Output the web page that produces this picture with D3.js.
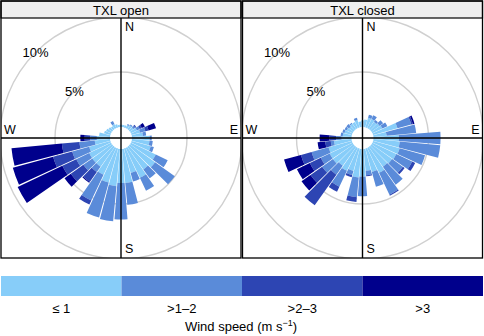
<!DOCTYPE html>
<html>
<head>
<meta charset="utf-8">
<script src="https://cdn.jsdelivr.net/npm/d3@7"></script>
<style>
body { margin: 0; background: #fff; }
svg text { font-family: "Liberation Sans", Arial, sans-serif; fill: #000; }
</style>
</head>
<body>
<script>
"use strict";
// wind direction bins (degrees, clockwise from north)
const directions = [10, 20, 30, 40, 50, 60, 70, 80, 90, 100, 110, 120, 130, 140, 150, 160, 170, 180,
	190, 200, 210, 220, 230, 240, 250, 260, 270, 280, 290, 300, 310, 320, 330, 340, 350, 360];
const speedClasses = ["\u2264 1", ">1\u20132", ">2\u20133", ">3"];
const panelTitles = ["TXL open", "TXL closed"];
const gridValues = [5, 10];
const gridLabels = ["5%", "10%"];
const cardinals = ["N", "E", "S", "W"];

// frequency (%) per direction and speed class, TXL open
const openLe1 = [0.2, 0.2, 0.3, 0.4, 0.4, 0.6, 0.8, 1.0, 1.6, 1.6, 1.8, 2.5, 2.8, 2.5, 3.0, 2.3, 3.1, 3.1,
	3.4, 3.2, 2.7, 2.2, 2.2, 2.2, 2.0, 1.4, 1.2, 1.0, 0.6, 0.5, 0.4, 0.3, 0.4, 0.3, 0.2, 0.2];
const open1to2 = [0, 0, 0.1, 0.1, 0.2, 0.3, 0.5, 0.3, 0.2, 0.3, 0.3, 1.2, 2.2, 1.0, 1.3, 0.8, 2.0, 3.3,
	3.2, 3.3, 2.6, 0.6, 1.0, 1.3, 1.6, 1.4, 0.6, 0, 0, 0, 0, 0, 0.3, 0, 0, 0];
const open2to3 = [0, 0, 0, 0, 0.1, 0.2, 0.3, 0, 0, 0, 0, 0, 0, 0, 0, 0, 0, 0,
	0, 0, 0.4, 1.1, 1.4, 1.4, 1.8, 1.6, 0.5, 0, 0, 0, 0, 0, 0, 0, 0, 0];
const openGt3 = [0, 0, 0, 0, 0, 0.3, 0.7, 0, 0, 0, 0, 0, 0, 0, 0, 0, 0, 0,
	0, 0, 0, 0.1, 0.7, 4.5, 3.8, 4.6, 0.4, 0, 0, 0, 0, 0, 0, 0, 0, 0];

// frequency (%) per direction and speed class, TXL closed
const closedLe1 = [0.7, 0.9, 0.9, 0.8, 0.9, 1.0, 2.3, 1.2, 2.3, 2.4, 2.5, 2.4, 2.3, 2.2, 2.5, 2.2, 2.0, 2.5,
	2.6, 2.1, 2.3, 2.1, 2.3, 2.3, 2.2, 1.6, 0.9, 0.8, 0.7, 0.6, 0.5, 0.6, 0.6, 0.7, 0.5, 0.6];
const closed1to2 = [0, 0.3, 0.4, 0.2, 0.4, 0.5, 1.3, 2.7, 3.8, 3.7, 2.4, 1.6, 1.2, 2.0, 2.2, 1.4, 0.4, 1.8,
	1.8, 0.4, 1.6, 1.0, 1.2, 0.9, 1.6, 0.3, 0.5, 0.2, 0.2, 0.2, 0.3, 0.1, 0, 0.2, 0, 0];
const closed2to3 = [0, 0, 0, 0, 0, 0, 0.15, 0, 0, 0, 0, 0.3, 0.2, 0, 0.1, 0, 0.1, 0,
	0.45, 0.2, 0.5, 3.4, 1.3, 1.1, 1.0, 0.5, 0.6, 0, 0, 0, 0, 0, 0, 0, 0, 0];
const closedGt3 = [0, 0, 0, 0, 0, 0, 0.15, 0, 0, 0, 0, 0, 0, 0, 0, 0, 0, 0,
	0, 0, 0, 0, 1.0, 1.3, 1.6, 0.7, 0.9, 0, 0, 0, 0, 0, 0, 0, 0, 0];

const colors = ["#87cdf9", "#5a8bd9", "#2d45b3", "#00008c"];

const W = 484, H = 336;
const panelW = 240, panelTop = 1, panelH = 257, stripH = 17;
const panelX = [1, 242.5];

const svg = d3.select("body").append("svg").attr("width", W).attr("height", H);
svg.append("rect").attr("width", W).attr("height", H).attr("fill", "#fff");

const rScale = d3.scaleLinear().domain([0, 10]).range([11, 121]);
const color = d3.scaleOrdinal().domain(speedClasses).range(colors);

function drawPanel(idx, series) {
	const x0 = panelX[idx];
	const plotTop = panelTop + stripH;
	const cx = x0 + panelW / 2;
	const cy = plotTop + (panelH - stripH) / 2;
	const g = svg.append("g");

	g.append("clipPath").attr("id", "clip" + idx)
		.append("rect").attr("x", x0).attr("y", plotTop).attr("width", panelW).attr("height", panelH - stripH);
	const plot = g.append("g").attr("clip-path", "url(#clip" + idx + ")");
	const c = plot.append("g").attr("transform", "translate(" + cx + "," + cy + ")");

	c.selectAll("circle.grid").data(gridValues).enter().append("circle").attr("class", "grid")
		.attr("r", d => rScale(d)).attr("fill", "none").attr("stroke", "#d0d0d0").attr("stroke-width", 1.4);

	const rows = directions.map((d, i) => {
		const row = {dir: d};
		speedClasses.forEach((k, j) => { row[k] = series[j][i]; });
		return row;
	});
	const stacked = d3.stack().keys(speedClasses)(rows);
	const arc = d3.arc()
		.innerRadius(d => rScale(d[0]))
		.outerRadius(d => rScale(d[1]))
		.startAngle(d => (d.data.dir - 4.6) * Math.PI / 180)
		.endAngle(d => (d.data.dir + 4.6) * Math.PI / 180);
	c.selectAll("g.layer").data(stacked).enter().append("g").attr("class", "layer")
		.attr("fill", d => color(d.key))
		.selectAll("path").data(d => d.filter(p => p[1] > p[0])).enter().append("path")
		.attr("d", arc);

	// axes through the centre
	c.append("line").attr("x1", 0).attr("x2", 0).attr("y1", plotTop - cy).attr("y2", panelTop + panelH - cy)
		.attr("stroke", "#000").attr("stroke-width", 1.4);
	c.append("line").attr("x1", x0 - cx).attr("x2", x0 + panelW - cx).attr("y1", 0).attr("y2", 0)
		.attr("stroke", "#000").attr("stroke-width", 1.4);

	// grid labels along the NW diagonal
	c.selectAll("text.glab").data(gridValues).enter().append("text").attr("class", "glab")
		.attr("x", d => -rScale(d) * Math.SQRT1_2).attr("y", d => -rScale(d) * Math.SQRT1_2)
		.attr("text-anchor", "middle").attr("dominant-baseline", "central")
		.attr("font-size", 13).text((d, i) => gridLabels[i]);

	// compass labels
	g.append("text").attr("x", cx + 4).attr("y", plotTop + 13).attr("font-size", 12.5).text(cardinals[0]);
	g.append("text").attr("x", x0 + panelW - 3).attr("y", cy - 4).attr("text-anchor", "end").attr("font-size", 12.5).text(cardinals[1]);
	g.append("text").attr("x", cx + 4).attr("y", panelTop + panelH - 5).attr("font-size", 12.5).text(cardinals[2]);
	g.append("text").attr("x", x0 + 3).attr("y", cy - 4).attr("font-size", 12.5).text(cardinals[3]);

	// strip
	g.append("rect").attr("x", x0).attr("y", panelTop).attr("width", panelW).attr("height", stripH)
		.attr("fill", "#efefef").attr("stroke", "#000").attr("stroke-width", 1.2);
	g.append("text").attr("x", cx).attr("y", panelTop + 13.5).attr("text-anchor", "middle")
		.attr("font-size", 13).text(panelTitles[idx]);
	g.append("rect").attr("x", x0).attr("y", panelTop).attr("width", panelW).attr("height", panelH)
		.attr("fill", "none").attr("stroke", "#000").attr("stroke-width", 1.3);
}

drawPanel(0, [openLe1, open1to2, open2to3, openGt3]);
drawPanel(1, [closedLe1, closed1to2, closed2to3, closedGt3]);

// colour key
const xKey = d3.scaleBand().domain(speedClasses).range([1, 483]);
const key = svg.append("g");
key.selectAll("rect").data(speedClasses).enter().append("rect")
	.attr("x", d => xKey(d)).attr("y", 276).attr("width", xKey.bandwidth()).attr("height", 20)
	.attr("fill", d => color(d));
key.selectAll("text").data(speedClasses).enter().append("text")
	.attr("x", d => xKey(d) + xKey.bandwidth() / 2).attr("y", 313)
	.attr("text-anchor", "middle").attr("font-size", 13).text(d => d);
const ttl = svg.append("text").attr("x", 241).attr("y", 331).attr("text-anchor", "middle").attr("font-size", 13);
ttl.append("tspan").text("Wind speed (m s");
ttl.append("tspan").attr("dy", -5).attr("font-size", 9).text("\u22121");
ttl.append("tspan").attr("dy", 5).text(")");
</script>
</body>
</html>
